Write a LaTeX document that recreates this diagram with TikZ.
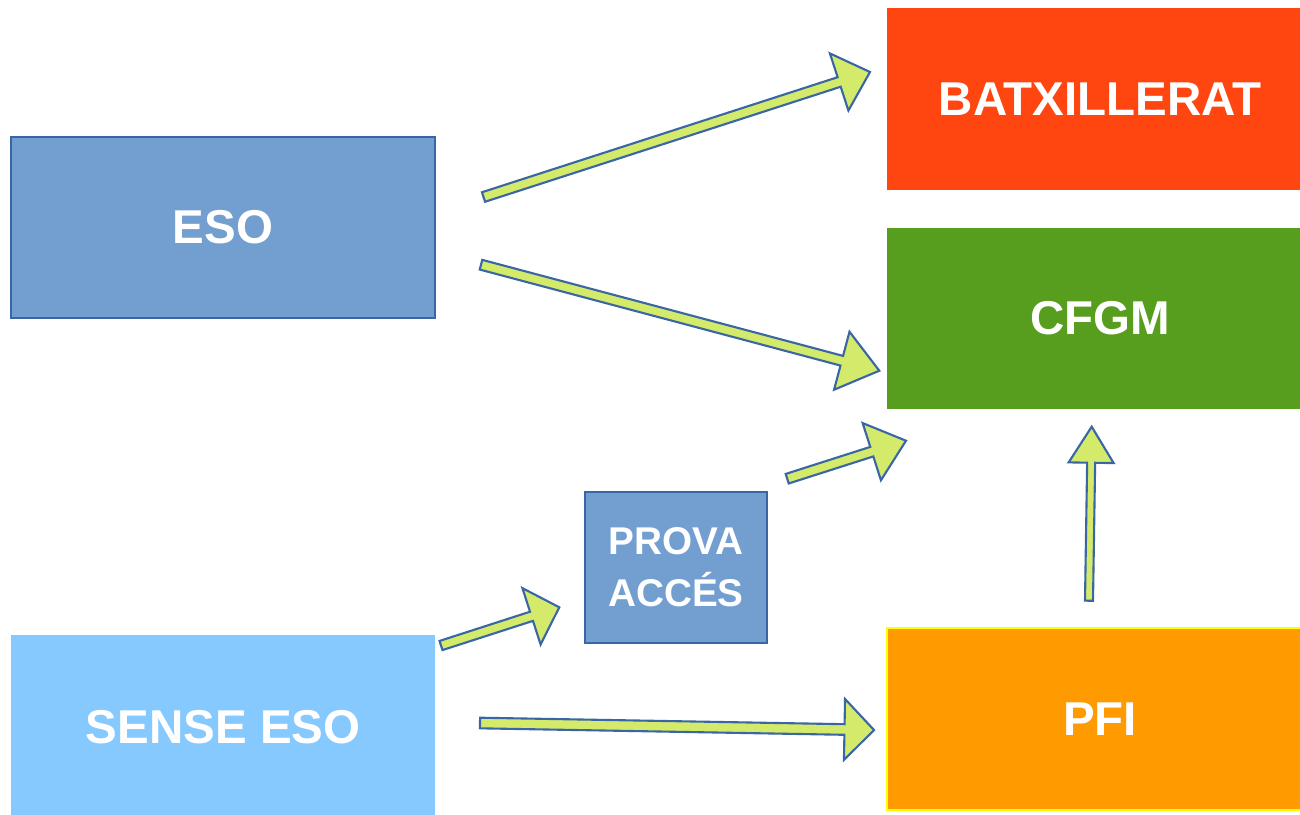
\documentclass[tikz,border=0pt]{standalone}
\usepackage{fontspec}
\setmainfont{Liberation Sans}
\usetikzlibrary{calc}
\definecolor{esoblue}{HTML}{729FCF}
\definecolor{edgeblue}{HTML}{3A66A5}
\definecolor{batxred}{HTML}{FF4510}
\definecolor{cfgmgreen}{HTML}{589E1E}
\definecolor{pfiorange}{HTML}{FF9A00}
\definecolor{senseblue}{HTML}{85C9FF}
\definecolor{arrowfill}{HTML}{D4EA6B}
\definecolor{pfiedge}{HTML}{FFFF00}
% tail, tip, half shaft width, half head width, head length
\newcommand{\blockarrow}[5]{%
  \coordinate (#1-hb) at ($(#2)!#5!(#1)$);
  \draw[blockarrowstyle] ($(#1)!#3!90:(#2)$) -- ($(#1-hb)!#3!90:(#2)$) -- ($(#1-hb)!#4!90:(#2)$) -- (#2) -- ($(#1-hb)!#4!-90:(#2)$) -- ($(#1-hb)!#3!-90:(#2)$) -- ($(#1)!#3!-90:(#2)$) -- cycle;
}
\begin{document}
\begin{tikzpicture}[x=0.01cm,y=-0.01cm,
  box/.style={rectangle, inner sep=0pt, outer sep=0pt, anchor=north west, text=white,
    font=\fontsize{13.5}{16}\selectfont\bfseries},
  blockarrowstyle/.style={fill=arrowfill, draw=edgeblue, line width=0.6pt, line join=miter}]
\useasboundingbox[fill=white] (0,0) rectangle (1300,814);

\node[box, fill=esoblue, draw=edgeblue, line width=0.6pt, minimum width=4.24cm, minimum height=1.81cm] (eso) at (11,137) {ESO};
\node[box, fill=senseblue, minimum width=4.24cm, minimum height=1.84cm] (sense) at (11,635) {SENSE ESO};
\node[box, fill=esoblue, draw=edgeblue, line width=0.6pt, minimum width=1.82cm, minimum height=1.51cm, align=center,
  font=\fontsize{11}{14.8}\selectfont\bfseries] (prova) at (585,492) {PROVA\\ACCÉS};
\node[box, fill=batxred, minimum width=4.26cm, minimum height=1.82cm] (batx) at (887,8) {BATXILLERAT};
\node[box, fill=cfgmgreen, minimum width=4.26cm, minimum height=1.81cm] (cfgm) at (887,228) {CFGM};
\node[box, fill=pfiorange, draw=pfiedge, line width=0.5pt, minimum width=4.26cm, minimum height=1.82cm] (pfi) at (887,628) {PFI};

\coordinate (esobatx-s) at (483.5,197);
\coordinate (esobatx-e) at (870,72);
\coordinate (esocfgm-s) at (481,264.7);
\coordinate (esocfgm-e) at (879.3,370.7);
\coordinate (provacfgm-s) at (787.2,478.7);
\coordinate (provacfgm-e) at (906,440.7);
\coordinate (pficfgm-s) at (1089,600.7);
\coordinate (pficfgm-e) at (1091.7,426.7);
\coordinate (senseprova-s) at (441,645.5);
\coordinate (senseprova-e) at (559.3,607.3);
\coordinate (sensepfi-s) at (480,723);
\coordinate (sensepfi-e) at (874,730);

\blockarrow{esobatx-s}{esobatx-e}{0.05cm}{0.30cm}{0.324cm}
\blockarrow{esocfgm-s}{esocfgm-e}{0.05cm}{0.30cm}{0.388cm}
\blockarrow{provacfgm-s}{provacfgm-e}{0.05cm}{0.30cm}{0.359cm}
\blockarrow{pficfgm-s}{pficfgm-e}{0.04cm}{0.225cm}{0.36cm}
\blockarrow{senseprova-s}{senseprova-e}{0.048cm}{0.296cm}{0.292cm}
\blockarrow{sensepfi-s}{sensepfi-e}{0.053cm}{0.305cm}{0.295cm}
\end{tikzpicture}
\end{document}
